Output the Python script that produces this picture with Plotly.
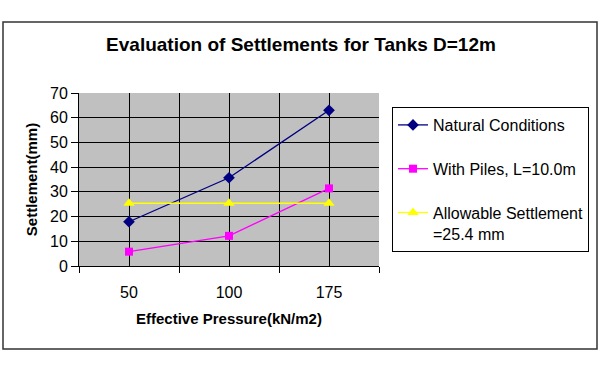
import plotly.graph_objects as go

categories = ["50", "100", "175"]
natural = [17.9, 35.7, 63.0]
piles = [5.8, 12.2, 31.4]
allowable = [25.4, 25.4, 25.4]

x = list(range(len(categories)))
FONT = "Arial, Liberation Sans, sans-serif"

fig = go.Figure()
fig.add_trace(go.Scatter(x=x, y=natural, name="Natural Conditions", legendgroup="a",
                         mode="lines+markers", line=dict(color="#000080", width=1.3),
                         marker=dict(symbol="diamond", size=9, color="#000080")))
fig.add_trace(go.Scatter(x=x, y=piles, name="With Piles, L=10.0m", legendgroup="b",
                         mode="lines+markers", line=dict(color="#FF00FF", width=1.3),
                         marker=dict(symbol="square", size=8, color="#FF00FF")))
fig.add_trace(go.Scatter(x=x, y=allowable, name="Allowable Settlement<br>=25.4 mm", legendgroup="c",
                         mode="lines+markers", line=dict(color="#FFFF00", width=1.3),
                         marker=dict(symbol="triangle-up", size=10, color="#FFFF00")))

fig.update_layout(
    template="none",
    width=600, height=381,
    margin=dict(l=79, r=221, t=93, b=115, autoexpand=False),
    paper_bgcolor="white",
    plot_bgcolor="#C0C0C0",
    font=dict(family=FONT, color="black", size=16),
    title=dict(text="<b>Evaluation of Settlements for Tanks D=12m</b>",
               x=301 / 600, xanchor="center", y=1 - 44 / 381, yanchor="middle",
               font=dict(size=19, family=FONT, color="black")),
    legend=dict(x=(392 - 79) / 300, xanchor="left", y=(266 - 107) / 173, yanchor="top",
                bordercolor="black", borderwidth=1, bgcolor="white",
                font=dict(size=16, family=FONT), tracegroupgap=20, valign="top",
                traceorder="grouped"),
    showlegend=True,
)

fig.update_xaxes(
    automargin=False,
    range=[-0.5, 2.5], tickmode="array", tickvals=x, ticktext=categories,
    ticks="", showgrid=True, gridcolor="black", gridwidth=1,
    showline=True, linecolor="black", linewidth=1, zeroline=False,
    tickfont=dict(size=16), ticklabelstandoff=12,
    minor=dict(tickvals=[-0.5, 0.5, 1.5, 2.5], ticks="outside", ticklen=6,
               tickcolor="black", showgrid=True, gridcolor="black", gridwidth=1),
    title=dict(text="<b>Effective Pressure(kN/m2)</b>", font=dict(size=15), standoff=13),
)
fig.update_yaxes(
    automargin=False,
    range=[0, 70], dtick=10, ticks="outside", ticklen=7, tickcolor="black",
    showgrid=True, gridcolor="black", gridwidth=1,
    showline=True, linecolor="black", linewidth=1, zeroline=False,
    tickfont=dict(size=16),
    title=dict(text="<b>Settlement(mm)</b>", font=dict(size=15), standoff=8),
)

# outer chart border
fig.add_shape(type="rect", xref="paper", yref="paper",
              x0=(3 - 79) / 300, x1=(597 - 79) / 300,
              y0=(266 - 349) / 173, y1=(266 - 22) / 173,
              line=dict(color="#333333", width=1.5), fillcolor="rgba(0,0,0,0)", layer="below")

fig.write_html("out.html", config={"displayModeBar": False},
               post_script="document.body.style.margin='0';document.body.style.padding='0';")
